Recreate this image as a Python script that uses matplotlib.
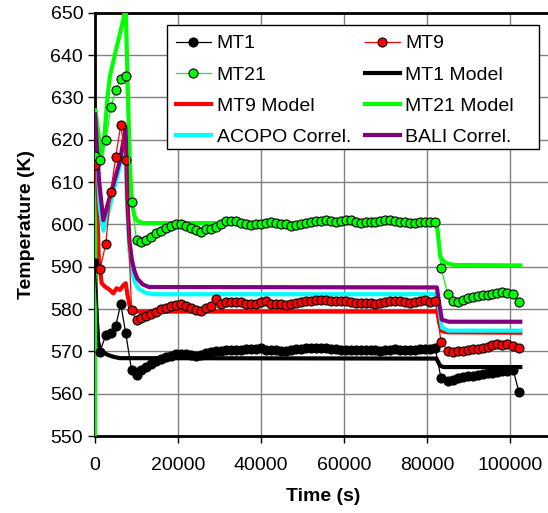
import matplotlib
matplotlib.use('Agg')
import matplotlib.pyplot as plt
from matplotlib.patches import Rectangle

plt.rcParams['font.family'] = ['Liberation Sans', 'DejaVu Sans']

# measurement times (s), shared by the three thermocouples
t_meas = [0, 1200, 2600, 3800, 5000, 6200, 7400, 8800,
          10000, 11200, 12400, 13600, 14800, 16000, 17200, 18400, 19600, 20800,
          22000, 23200, 24400, 25600, 26800, 28000, 29200, 30400, 31600, 32800,
          34000, 35200, 36400, 37600, 38800, 40000, 41200, 42400, 43600, 44800,
          46000, 47200, 48400, 49600, 50800, 52000, 53200, 54400, 55600, 56800,
          58000, 59200, 60400, 61600, 62800, 64000, 65200, 66400, 67600, 68800,
          70000, 71200, 72400, 73600, 74800, 76000, 77200, 78400, 79600, 80800,
          82000,
          83400, 85000, 86200, 87400, 88600, 89800, 91000, 92200, 93400, 94600,
          95800, 97000, 98200, 99400, 100800, 102200]

mt1 = [590.8, 569.9, 573.9, 574.3, 576.1, 581.2, 574.3, 565.6,
       564.4, 565.5, 566.2, 567.0, 567.8, 568.3, 568.7, 569.0, 569.3, 569.4,
       569.3, 569.1, 568.9, 569.2, 569.6, 569.8, 570.0, 570.2, 570.3, 570.4,
       570.3, 570.4, 570.5, 570.5, 570.6, 570.7, 570.4, 570.3, 570.3, 570.2,
       570.2, 570.4, 570.5, 570.6, 570.7, 570.8, 570.9, 570.9, 570.8, 570.6,
       570.5, 570.4, 570.4, 570.3, 570.3, 570.3, 570.4, 570.4, 570.3, 570.2,
       570.3, 570.4, 570.5, 570.4, 570.3, 570.3, 570.4, 570.5, 570.5, 570.6,
       570.8,
       563.6, 562.9, 563.3, 563.6, 563.9, 564.1, 564.3, 564.5, 564.6, 564.8,
       565.0, 565.2, 565.3, 565.4, 565.6, 560.3]

mt9 = [614.0, 589.4, 595.4, 607.7, 616.0, 623.5, 615.2, 579.8,
       577.3, 577.9, 578.4, 578.9, 579.4, 579.9, 580.3, 580.6, 580.9, 581.2,
       580.7, 580.2, 579.7, 579.6, 580.3, 580.8, 582.4, 581.3, 581.6, 581.6,
       581.6, 581.6, 581.3, 581.3, 581.3, 581.6, 581.9, 581.3, 581.3, 581.2,
       581.0, 581.1, 581.4, 581.6, 581.8, 582.0, 582.1, 582.2, 582.1, 581.8,
       581.8, 581.9, 581.8, 581.6, 581.5, 581.5, 581.5, 581.4, 581.3, 581.4,
       581.6, 581.8, 581.9, 581.8, 581.6, 581.5, 581.7, 581.9, 582.1, 581.7,
       582.0,
       572.3, 570.2, 569.9, 570.1, 570.15, 570.3, 570.5, 570.6, 570.7, 571.0,
       571.5, 571.7, 571.5, 571.7, 571.3, 570.7]

mt21 = [616.2, 615.2, 619.9, 627.7, 631.7, 634.3, 635.0, 605.2,
        596.3, 595.8, 596.2, 597.1, 597.9, 598.5, 599.1, 599.5, 600.0, 600.2,
        599.7, 599.2, 598.6, 598.3, 598.8, 599.0, 599.4, 600.2, 600.7, 600.9,
        600.8, 600.4, 600.0, 599.9, 600.0, 600.1, 600.3, 600.5, 600.3, 600.2,
        600.0, 599.6, 599.8, 600.2, 600.3, 600.5, 600.8, 600.8, 601.0, 600.8,
        600.5, 600.8, 601.0, 601.0, 600.5, 600.3, 600.5, 600.6, 600.6, 600.8,
        601.0, 601.0, 600.8, 600.5, 600.6, 600.4, 600.3, 600.6, 600.6, 600.6,
        600.6,
        589.8, 583.5, 582.0, 581.7, 582.1, 582.5, 582.9, 583.1, 583.3, 583.3,
        583.5, 583.9, 583.95, 583.9, 583.5, 581.7]

# model results
t_mt1_mod = [0, 300, 700, 1200, 2000, 3000, 4500, 6000, 82300, 82700, 83200, 84000, 102500]
mt1_mod = [591, 580, 572.5, 570.3, 569.8, 569.2, 568.7, 568.4, 568.3, 567.5, 566.6, 566.3, 566.3]

t_mt9_mod = [0, 300, 900, 1600, 2400, 3600, 4400, 5200, 6000, 6800, 7400, 7800, 8400,
             9200, 10000, 82500, 83000, 83600, 85000, 102500]
mt9_mod = [618, 612, 592, 586.1, 585.3, 584.5, 583.7, 584.9, 584.5, 585.6, 586.1, 583.5, 580.5,
           579.6, 579.4, 579.4, 576.5, 574.8, 574.5, 574.4]

t_mt21_mod = [0, 100, 1500, 2200, 3000, 3600, 5000, 6500, 7400, 7900, 8400, 8900, 9500,
              10200, 11500, 82400, 83200, 84000, 84800, 86500, 102500]
mt21_mod = [550, 627, 616, 620, 630, 635, 641, 647, 651, 632, 614, 605, 602,
            600.8, 600.3, 600.3, 592.4, 591.3, 590.8, 590.4, 590.3]

t_acopo = [0, 400, 1000, 2000, 3000, 4000, 5000, 6000, 7000, 7400, 7800, 8300, 8800,
           9500, 10500, 12000, 14000, 82400, 83000, 83600, 85200, 102500]
acopo = [623, 615, 605, 598.5, 602, 606, 610, 614, 617, 614, 603, 594, 589.5,
         586.5, 584.8, 583.9, 583.5, 583.5, 579.5, 575.6, 574.9, 574.9]

t_bali = [0, 400, 1000, 2000, 3000, 4000, 5000, 6000, 6900, 7400, 7800, 8300, 8900,
          9500, 10200, 11500, 13000, 82400, 83000, 83600, 85200, 102500]
bali = [626, 619, 610, 601, 604.5, 608, 611.5, 615, 620, 623, 606, 596, 591.5,
        589, 587.2, 585.8, 585.2, 585.1, 581, 577.5, 577.0, 577.0]

W, H = 548, 513
fig = plt.figure(figsize=(W / 100, H / 100), dpi=100)
ax = fig.add_axes([0.1734, 0.150, 0.8328, 0.8253])

mk = dict(marker='o', markersize=6.5, markeredgecolor='black', markeredgewidth=0.8,
          linewidth=0.9, zorder=5)
h1, = ax.plot(t_meas, mt1, color='black', markerfacecolor='black', label='MT1', **mk)
h9, = ax.plot(t_meas, mt9, color='red', markerfacecolor='red', label='MT9', **mk)
h21, = ax.plot(t_meas, mt21, color='#00ff00', markerfacecolor='#00ff00', label='MT21', **mk)

lw = 3
m1, = ax.plot(t_mt1_mod, mt1_mod, color='black', lw=lw, label='MT1 Model', zorder=3)
m9, = ax.plot(t_mt9_mod, mt9_mod, color='red', lw=lw, label='MT9 Model', zorder=3)
m21, = ax.plot(t_mt21_mod, mt21_mod, color='#00ff00', lw=lw, label='MT21 Model', zorder=3)
ma, = ax.plot(t_acopo, acopo, color='cyan', lw=lw, label='ACOPO Correl.', zorder=3)
mb, = ax.plot(t_bali, bali, color='#800080', lw=lw, label='BALI Correl.', zorder=3)

ax.set_xlim(0, 110000)
ax.set_ylim(550, 650)
ax.set_xticks(range(0, 100001, 20000))
ax.set_yticks(range(550, 651, 10))
ax.grid(True, color='#808080', linewidth=1, zorder=0)
ax.set_axisbelow(True)
ax.tick_params(direction='out', length=5, width=1, labelsize=14, colors='black')
ax.tick_params(axis='x', pad=10)
for s in ax.spines.values():
    s.set_linewidth(2)

ax.set_xlabel('Time (s)', fontsize=14, fontweight='bold', labelpad=10)
ax.set_ylabel('Temperature (K)', fontsize=14, fontweight='bold', labelpad=11)

# legend box drawn separately so it can be wider than the entries
box = Rectangle((167 / W, 1 - 149 / H), (539 - 167) / W, (149 - 25) / H,
                transform=fig.transFigure, facecolor='white', edgecolor='black',
                linewidth=1, zorder=9)
fig.add_artist(box)

# two-column legend filled row by row
handles = [h1, h21, m9, ma, h9, m1, m21, mb]
leg = fig.legend(handles=handles, labels=[h.get_label() for h in handles], ncol=2,
                 loc='upper left', bbox_to_anchor=(167 / W, 1 - 26 / H),
                 borderaxespad=0, fontsize=14, handlelength=1.8, handletextpad=0.3,
                 columnspacing=0.7, labelspacing=0.7, borderpad=0.45, frameon=False)
leg.set_zorder(10)

fig.savefig('out.png', dpi=100)
